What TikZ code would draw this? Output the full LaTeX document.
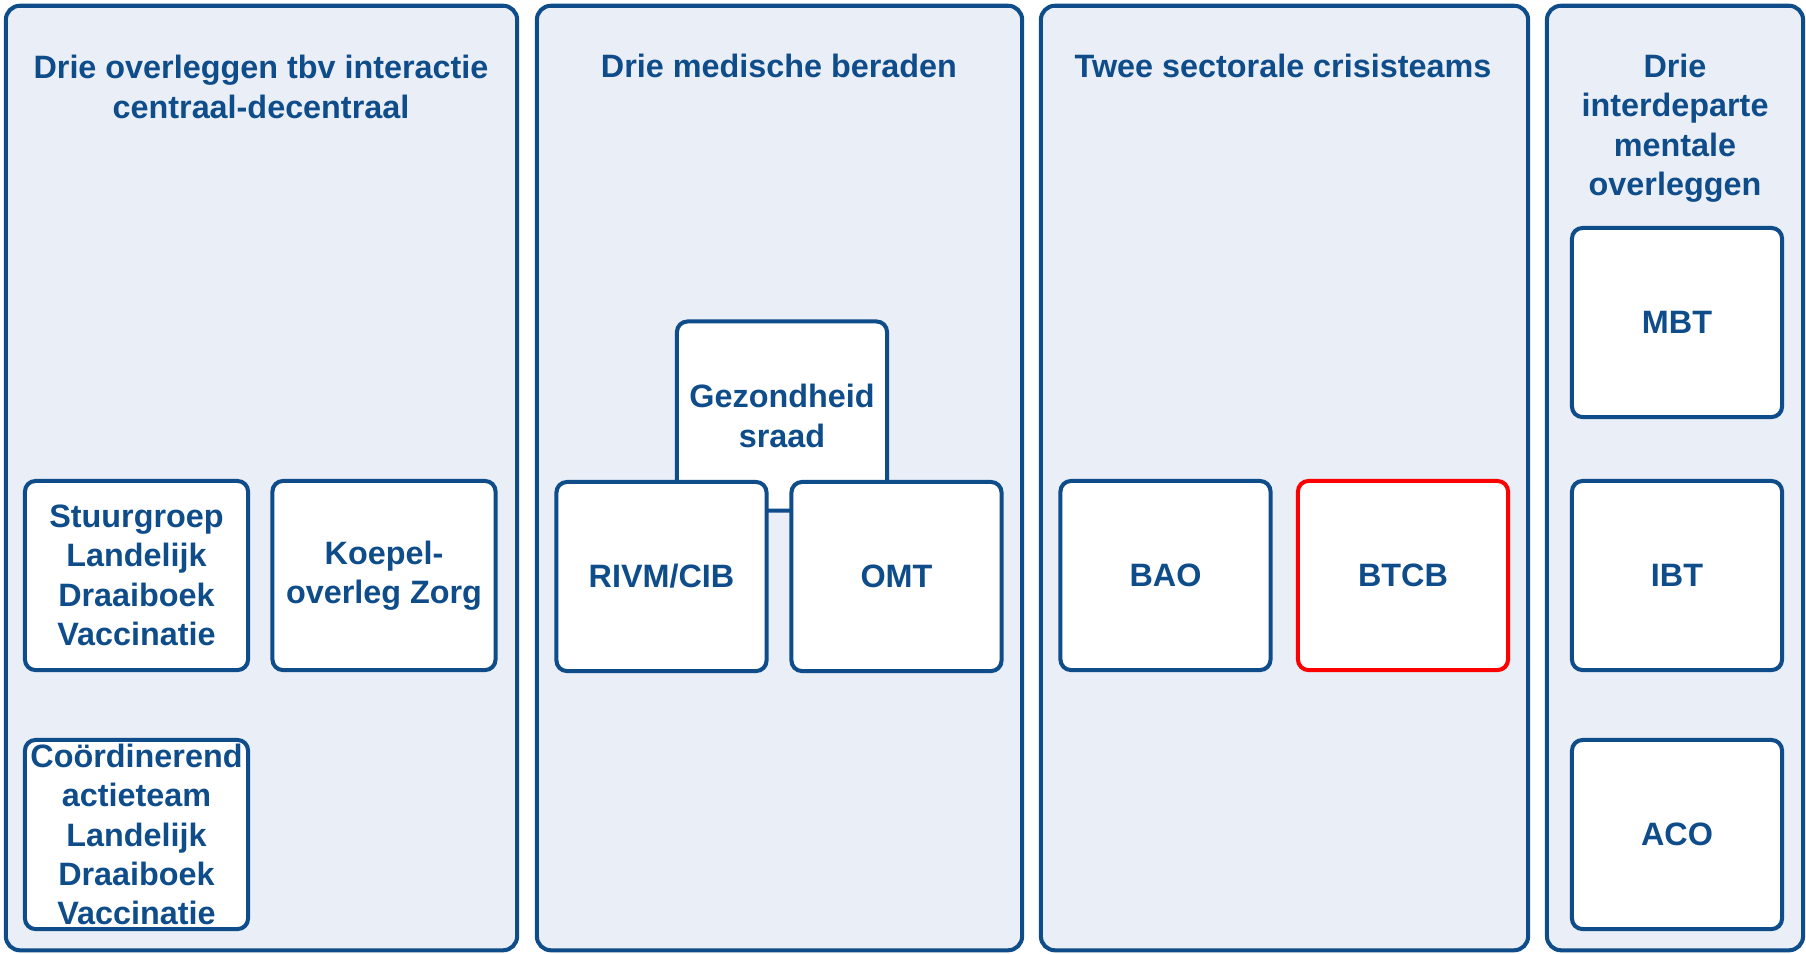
\documentclass[tikz,border=0pt]{standalone}
\usepackage{fontspec}
\setmainfont{Liberation Sans}
\definecolor{navy}{HTML}{0F4C8A}
\definecolor{panelfill}{HTML}{E9EEF7}
\definecolor{alert}{HTML}{FF0000}
\begin{document}
\begin{tikzpicture}[x=0.01cm,y=-0.01cm,
panel/.style={draw=navy,fill=panelfill,line width=1.15pt,rounded corners=4pt,minimum height=9.44cm,inner sep=0pt},title/.style={text=navy,font=\bfseries\fontsize{9.2}{11.2}\selectfont,align=center,inner sep=0pt},unit/.style={draw=navy,fill=white,line width=1.15pt,rounded corners=3pt,minimum width=2.1cm,minimum height=1.89cm,text=navy,font=\bfseries\fontsize{9.2}{11.2}\selectfont,align=center,inner sep=2pt},wideunit/.style={unit,minimum width=2.23cm},redunit/.style={unit,draw=alert}]
\useasboundingbox (0,0) rectangle (1806,953);
\node[panel,minimum width=5.11cm] (centraal) at (261.5,478) {};
\node[panel,minimum width=4.85cm] (medisch) at (779.5,478) {};
\node[panel,minimum width=4.87cm] (sectoraal) at (1284.5,478) {};
\node[panel,minimum width=2.56cm] (interdep) at (1675,478) {};
\node[title] (tcentraal) at (261,87) {Drie overleggen tbv interactie\\centraal-decentraal};
\node[title] (tmedisch) at (779,66) {Drie medische beraden};
\node[title] (tsectoraal) at (1283,66) {Twee sectorale crisisteams};
\node[title] (tinterdep) at (1675,128) {Drie\\interdeparte\\mentale\\overleggen};
\node[wideunit] (stuurgroep) at (136.5,575.5) {Stuurgroep\\Landelijk\\Draaiboek\\Vaccinatie};
\node[wideunit] (koepel) at (384,575.5) {Koepel-\\overleg Zorg};
\node[wideunit,inner sep=0pt] (actieteam) at (136.5,834.5) {Coördinerend\\actieteam\\Landelijk\\Draaiboek\\Vaccinatie};
\node[unit] (gr) at (782,416) {Gezondheid\\sraad};
\node[unit] (rivm) at (661.5,576.5) {RIVM/CIB};
\node[unit] (omt) at (896.5,576.5) {OMT};
\node[unit] (bao) at (1165.5,575.5) {BAO};
\node[redunit] (btcb) at (1403,575.5) {BTCB};
\node[unit] (mbt) at (1677,322.5) {MBT};
\node[unit] (ibt) at (1677,575.5) {IBT};
\node[unit] (aco) at (1677,834.5) {ACO};
\end{tikzpicture}
\end{document}
